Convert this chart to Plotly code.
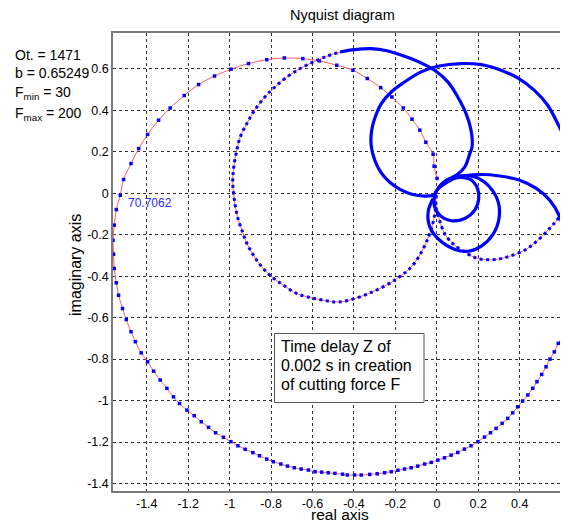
import plotly.graph_objects as go

# ---------------- data ----------------
# S1: outer loop (sparse points)
s1_re = [0.001, -0.013, -0.018, -0.053, -0.082, -0.120, -0.162, -0.217, -0.271, -0.336, -0.405,
         -0.483, -0.567, -0.647, -0.736, -0.821, -0.909, -0.993, -1.073, -1.150, -1.219, -1.287,
         -1.343, -1.396, -1.439, -1.476, -1.512, -1.528, -1.547, -1.557, -1.563, -1.560, -1.557,
         -1.547, -1.536, -1.517, -1.499, -1.476, -1.455, -1.427, -1.396, -1.367, -1.335, -1.303,
         -1.271, -1.242, -1.206, -1.171, -1.137, -1.102, -1.068, -1.030, -0.994, -0.960, -0.925,
         -0.888, -0.856, -0.821, -0.789, -0.753, -0.721, -0.688, -0.655, -0.620, -0.588, -0.556,
         -0.524, -0.492, -0.455, -0.432, -0.397, -0.365, -0.324, -0.288, -0.252, -0.220, -0.188,
         -0.156, -0.124, -0.092, -0.059, -0.027, 0.005, 0.037, 0.069, 0.101, 0.133, 0.165, 0.198,
         0.230, 0.259, 0.286, 0.315, 0.342, 0.366, 0.390, 0.414, 0.439, 0.463, 0.483, 0.506,
         0.527, 0.546, 0.567, 0.586, 0.607, 0.625]
s1_im = [0.071, 0.130, 0.188, 0.246, 0.304, 0.357, 0.411, 0.464, 0.509, 0.553, 0.593,
         0.617, 0.638, 0.649, 0.652, 0.644, 0.625, 0.598, 0.565, 0.524, 0.471, 0.411,
         0.352, 0.283, 0.215, 0.143, 0.066, -0.010, -0.079, -0.154, -0.227, -0.294, -0.363,
         -0.432, -0.492, -0.556, -0.609, -0.668, -0.716, -0.770, -0.813, -0.858, -0.901, -0.941,
         -0.982, -1.014, -1.046, -1.073, -1.102, -1.129, -1.155, -1.177, -1.198, -1.218, -1.235,
         -1.251, -1.266, -1.282, -1.295, -1.306, -1.316, -1.324, -1.330, -1.335, -1.343, -1.345,
         -1.348, -1.351, -1.355, -1.359, -1.359, -1.359, -1.356, -1.353, -1.348, -1.343, -1.336,
         -1.330, -1.324, -1.316, -1.306, -1.298, -1.287, -1.276, -1.263, -1.250, -1.234, -1.218, -1.198,
         -1.176, -1.155, -1.134, -1.110, -1.086, -1.059, -1.030, -1.002, -0.973, -0.941, -0.909, -0.874,
         -0.837, -0.800, -0.765, -0.724, -0.692, -0.650]

# S2: loop returning from the right edge into the origin
s2_re = [0.631, 0.591, 0.551, 0.487, 0.423, 0.342, 0.278, 0.198, 0.133, 0.077, 0.037, 0.013, -0.003, -0.008]
s2_im = [-0.034, -0.114, -0.162, -0.227, -0.275, -0.307, -0.320, -0.315, -0.283, -0.243, -0.194, -0.130, -0.074, -0.010]

# S3: loop on the left (origin -> down-left -> up -> back to origin)
s3_re = [-0.003, -0.010, -0.040, -0.110, -0.190, -0.320, -0.467, -0.548, -0.612, -0.676, -0.741,
         -0.797, -0.845, -0.885, -0.917, -0.941, -0.962, -0.977, -0.985, -0.982, -0.969, -0.949,
         -0.917, -0.885, -0.837, -0.789, -0.724, -0.660, -0.596, -0.532, -0.467]
s3_im = [-0.010, -0.100, -0.210, -0.340, -0.410, -0.480, -0.524, -0.516, -0.503, -0.484, -0.443,
         -0.403, -0.355, -0.299, -0.242, -0.178, -0.114, -0.034, 0.047, 0.111, 0.191, 0.271,
         0.336, 0.392, 0.456, 0.505, 0.560, 0.601, 0.633, 0.660, 0.681]
s3b_re = [-0.467, -0.397, -0.317, -0.236, -0.156, -0.076, -0.011, 0.053, 0.101, 0.141, 0.165,
          0.170, 0.159, 0.135, 0.095, 0.047, 0.006]
s3b_im = [0.681, 0.692, 0.697, 0.686, 0.660, 0.628, 0.593, 0.537, 0.464, 0.384, 0.304,
          0.223, 0.191, 0.127, 0.087, 0.063, 0.023]

# S4: loop through the upper half
s4_re = [-0.008, -0.060, -0.120, -0.180, -0.230, -0.270, -0.300, -0.317, -0.315, -0.300, -0.268,
         -0.220, -0.156, -0.076, 0.005, 0.117, 0.214, 0.310, 0.390, 0.471, 0.535, 0.583, 0.615, 0.631]
s4_im = [-0.010, -0.014, -0.005, 0.020, 0.055, 0.100, 0.160, 0.230, 0.300, 0.360, 0.432,
         0.488, 0.536, 0.585, 0.612, 0.625, 0.620, 0.593, 0.556, 0.496, 0.424, 0.336, 0.271, 0.231]

# S5: loop to the right of the origin
s5_re = [0.006, 0.095, 0.207, 0.304, 0.400, 0.480, 0.545, 0.593, 0.617, 0.625, 0.628, 0.631]
s5_im = [0.023, 0.076, 0.090, 0.083, 0.063, 0.023, -0.034, -0.114, -0.210, -0.307, -0.355, -0.420]

# L1, L2: small loops near the origin
l1_re = [-0.010, 0.030, 0.095, 0.159, 0.194, 0.202, 0.183, 0.135, 0.071, 0.014, -0.013, -0.010]
l1_im = [-0.010, 0.050, 0.075, 0.068, 0.028, -0.026, -0.082, -0.122, -0.133, -0.106, -0.058, -0.010]
l2_re = [-0.018, -0.042, -0.034, 0.014, 0.087, 0.151, 0.215, 0.271, 0.300, 0.296, 0.255, 0.191,
         0.111, 0.039, -0.010]
l2_im = [-0.026, -0.090, -0.162, -0.227, -0.271, -0.280, -0.255, -0.199, -0.122, -0.042, 0.030, 0.076,
         0.082, 0.055, -0.001]

x_ticks = [-1.4, -1.2, -1.0, -0.8, -0.6, -0.4, -0.2, 0.0, 0.2, 0.4, 0.6]
x_labels = ["-1.4", "-1.2", "-1", "-0.8", "-0.6", "-0.4", "-0.2", "0", "0.2", "0.4", "0.6"]
y_ticks = [-1.4, -1.2, -1.0, -0.8, -0.6, -0.4, -0.2, 0.0, 0.2, 0.4, 0.6]
y_labels = ["-1.4", "-1.2", "-1", "-0.8", "-0.6", "-0.4", "-0.2", "0", "0.2", "0.4", "0.6"]

crit_re, crit_im, crit_label = -1.383, -0.048, "70.7062"

# ---------------- figure ----------------
RED = "#ff5c5c"
BLUE = "#0000ff"
fig = go.Figure()

# sparse: read dot positions shown as markers
fig.add_trace(go.Scatter(x=s1_re, y=s1_im, mode="lines+markers", line=dict(color=RED, width=1, shape="spline"),
                         marker=dict(color=BLUE, size=3.5, symbol="square"), showlegend=False))
# medium density: red line with a closely dotted blue overlay
for xs, ys in [(s2_re, s2_im), (s3_re, s3_im)]:
    fig.add_trace(go.Scatter(x=xs, y=ys, mode="lines", line=dict(color=RED, width=1, shape="spline"),
                             showlegend=False))
    fig.add_trace(go.Scatter(x=xs, y=ys, mode="lines", line=dict(color=BLUE, width=3, shape="spline",
                                                                 dash="3px,3.5px"), showlegend=False))
# dense: solid thick blue
for xs, ys in [(s3b_re, s3b_im), (s4_re, s4_im), (s5_re, s5_im), (l1_re, l1_im), (l2_re, l2_im)]:
    fig.add_trace(go.Scatter(x=xs, y=ys, mode="lines", line=dict(color=BLUE, width=3.2, shape="spline"),
                             showlegend=False))

# page has an 8px body margin: work in page pixels and convert
OFF = 8
PAGE_W, PAGE_H = 568, 524
W, H = PAGE_W - OFF, PAGE_H - OFF
PL, PT, PR, PB = 113, 33, 568, 491          # plot-area edges in page pixels
L, T = PL - OFF, PT - OFF
R = W - (PR - OFF)
B = H - (PB - OFF)
pw, ph = W - L - R, H - T - B


def px(x):
    return (x - OFF - L) / pw


def py(y):
    return (H - B - (y - OFF)) / ph


axis_common = dict(showgrid=True, gridcolor="#333333", griddash="dot", gridwidth=1,
                   showline=True, linecolor="#7a7a7a", linewidth=1.5, mirror=True, automargin=False,
                   zeroline=False, ticks="", tickfont=dict(family="Liberation Sans, Arial", size=12.5, color="black"))

fig.update_layout(
    width=W, height=H,
    margin=dict(l=L, r=R, t=T, b=B, autoexpand=False),
    paper_bgcolor="white", plot_bgcolor="white",
    xaxis=dict(range=[-1.563, 0.633], tickvals=x_ticks, ticktext=x_labels, **axis_common),
    yaxis=dict(range=[-1.436, 0.7725], tickvals=y_ticks, ticktext=y_labels, **axis_common),
    font=dict(family="Liberation Sans, Arial", color="black"),
)

anns = []
anns.append(dict(x=px(342), y=py(15), xref="paper", yref="paper", text="Nyquist diagram", showarrow=False,
                 font=dict(size=14.5), xanchor="center", yanchor="middle"))
anns.append(dict(x=px(340), y=py(515), xref="paper", yref="paper", text="real axis", showarrow=False,
                 font=dict(size=15.5), xanchor="center", yanchor="middle"))
anns.append(dict(x=px(75), y=py(265), xref="paper", yref="paper", text="imaginary axis", showarrow=False,
                 font=dict(size=16), xanchor="center", yanchor="middle", textangle=-90))
info = [("Ot. = 1471", 55), ("b = 0.65249", 73), ("F<sub>min</sub> = 30", 93), ("F<sub>max</sub> = 200", 114)]
for t, yy in info:
    anns.append(dict(x=px(13), y=py(yy), xref="paper", yref="paper", text=t, showarrow=False,
                     font=dict(size=14), xanchor="left", yanchor="middle"))
box_lines = [("Time delay Z of", 347), ("0.002 s in creation", 365.5), ("of cutting force F", 384)]
for t, yy in box_lines:
    anns.append(dict(x=px(279), y=py(yy), xref="paper", yref="paper", text=t, showarrow=False,
                     font=dict(size=16), xanchor="left", yanchor="middle"))
anns.append(dict(x=crit_re, y=crit_im, xref="x", yref="y", text=crit_label, showarrow=False,
                 font=dict(size=12, color="#2a2aff"), xanchor="center", yanchor="middle"))
fig.update_layout(annotations=anns)

fig.add_shape(type="rect", xref="paper", yref="paper", x0=px(274.5), x1=px(424), y0=py(402.5), y1=py(333.5),
              line=dict(color="#555555", width=1), fillcolor="white", layer="above")

fig.write_html("out.html")
